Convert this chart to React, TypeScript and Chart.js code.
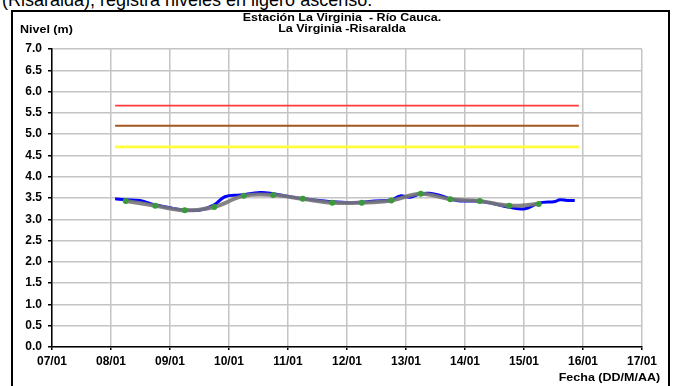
import { useEffect, useRef } from 'react';
import { Chart, registerables } from 'chart.js';

Chart.register(...registerables);

// X axis tick labels (days of January)
const dayTicks = ['07/01', '08/01', '09/01', '10/01', '11/01', '12/01', '13/01', '14/01', '15/01', '16/01', '17/01'];

// Observed level (blue) — x in day-of-month (fractional)
const blueDays = [8.07, 8.25, 8.49, 8.75, 9.0, 9.25, 9.51, 9.75, 9.93, 10.19, 10.53, 10.75, 11.03, 11.25, 11.54, 11.75, 12.05, 12.25, 12.47, 12.76, 12.9, 13.07, 13.25, 13.4, 13.58, 13.75, 13.92, 14.17, 14.42, 14.76, 15.02, 15.25, 15.53, 15.61, 15.73, 15.86];
const blueLevel = [3.48, 3.46, 3.44, 3.34, 3.27, 3.22, 3.22, 3.34, 3.53, 3.57, 3.63, 3.60, 3.53, 3.48, 3.44, 3.41, 3.39, 3.40, 3.43, 3.46, 3.55, 3.52, 3.60, 3.61, 3.56, 3.48, 3.43, 3.43, 3.39, 3.28, 3.25, 3.38, 3.42, 3.46, 3.44, 3.44];

// Smoothed level (gray with green points)
const smoothDays = [8.25, 8.75, 9.25, 9.75, 10.25, 10.75, 11.25, 11.75, 12.25, 12.75, 13.25, 13.75, 14.25, 14.75, 15.25];
const smoothLevel = [3.43, 3.32, 3.21, 3.29, 3.55, 3.57, 3.48, 3.39, 3.39, 3.44, 3.60, 3.47, 3.43, 3.32, 3.36];

// Threshold levels (red, brown, yellow)
const thresholdLevels = [5.67, 5.2, 4.7];
const thresholdStart = 8.07;
const thresholdEnd = 15.93;

const FONT = 'Arial, "Liberation Sans", sans-serif';

export default function App() {
  const ref = useRef<HTMLCanvasElement | null>(null);

  useEffect(() => {
    if (!ref.current) return;
    const thresholdColors = ['#ff3b3b', '#a5561e', '#ffff3c'];
    const thresholdWidths = [1.8, 2, 2.6];
    const thresholdSets = thresholdLevels.map((lv, i) => ({
      data: [{ x: thresholdStart, y: lv }, { x: thresholdEnd, y: lv }],
      borderColor: thresholdColors[i],
      borderWidth: thresholdWidths[i],
      pointRadius: 0,
      order: 5,
    }));
    const chart = new Chart(ref.current, {
      type: 'line',
      data: {
        datasets: [
          ...thresholdSets,
          {
            data: blueDays.map((d, i) => ({ x: d, y: blueLevel[i] })),
            borderColor: '#0000ff',
            borderWidth: 3,
            pointRadius: 0,
            tension: 0.4,
            order: 3,
          },
          {
            data: smoothDays.map((d, i) => ({ x: d, y: smoothLevel[i] })),
            borderColor: 'rgba(120,120,120,0.9)',
            borderWidth: 4,
            pointRadius: 3,
            pointBackgroundColor: '#3a9a3a',
            pointBorderWidth: 0,
            tension: 0.4,
            order: 1,
          },
        ],
      },
      options: {
        animation: false,
        responsive: false,
        layout: { padding: { left: 0, right: 34, top: 49, bottom: 0 } },
        plugins: {
          legend: { display: false },
          tooltip: { enabled: false },
          title: { display: false },
        },
        scales: {
          x: {
            type: 'linear',
            min: 7,
            max: 17,
            afterFit: (s: any) => { s.height = 39; },
            ticks: {
              stepSize: 1,
              autoSkip: false,
              maxRotation: 0,
              padding: 4,
              color: '#000',
              font: { family: FONT, size: 12, weight: 'bold' },
              callback: (v: any) => dayTicks[Math.round(Number(v) - 7)],
            },
            grid: { color: '#c4c4c4', lineWidth: 1.5, tickColor: '#000', tickLength: 3 },
            border: { color: '#000', width: 1.5 },
          },
          y: {
            min: 0,
            max: 7,
            afterFit: (s: any) => { s.width = 52; },
            ticks: {
              stepSize: 0.5,
              padding: 6,
              color: '#000',
              font: { family: FONT, size: 12, weight: 'bold' },
              callback: (v: any) => Number(v).toFixed(1),
            },
            grid: { color: '#c4c4c4', lineWidth: 1.5, tickColor: '#000', tickLength: 4 },
            border: { color: '#000', width: 1.5 },
          },
        },
      },
    } as any);
    return () => chart.destroy();
  }, []);

  const stretch = (origin: string) => ({
    transform: 'scaleX(1.25)',
    transformOrigin: origin,
  });

  return (
    <div style={{ position: 'fixed', left: 0, top: 0, width: 676, height: 386, overflow: 'hidden', background: '#fff', fontFamily: FONT }}>
      <div style={{ position: 'absolute', left: 2, top: -9, fontSize: 18, lineHeight: '18px', whiteSpace: 'nowrap', color: '#000' }}>
        (Risaralda), registra niveles en ligero ascenso.
      </div>
      <div style={{ position: 'absolute', left: 11, top: 10, width: 655, height: 400, border: '2px solid #000' }} />
      <canvas ref={ref} width={676} height={386} style={{ position: 'absolute', left: 0, top: 0, width: 676, height: 386 }} />
      <div style={{ position: 'absolute', left: 242, width: 200, top: 11.5, fontSize: 10, lineHeight: '11px', fontWeight: 'bold', textAlign: 'center', whiteSpace: 'nowrap', ...stretch('center') }}>
        <div>Estación La Virginia&nbsp; - Río Cauca.</div>
        <div>La Virginia -Risaralda</div>
      </div>
      <div style={{ position: 'absolute', left: 20, top: 23.5, fontSize: 10, lineHeight: '11px', fontWeight: 'bold', whiteSpace: 'nowrap', ...stretch('left') }}>
        Nivel (m)
      </div>
      <div style={{ position: 'absolute', right: 16, top: 371.5, fontSize: 10, lineHeight: '11px', fontWeight: 'bold', whiteSpace: 'nowrap', ...stretch('right') }}>
        Fecha (DD/M/AA)
      </div>
    </div>
  );
}
